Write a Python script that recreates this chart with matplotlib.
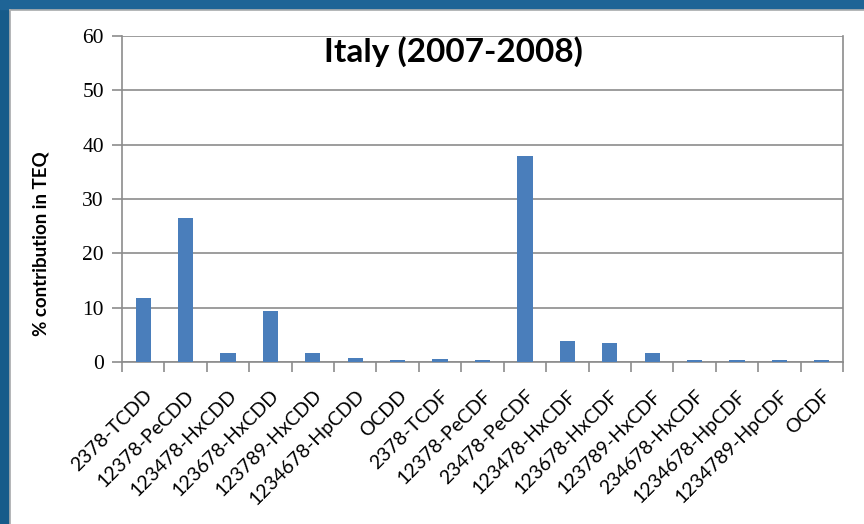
import numpy as np
import matplotlib
matplotlib.use("Agg")
import matplotlib.pyplot as plt
from matplotlib.patches import Rectangle

congeners = [
    "2378-TCDD", "12378-PeCDD", "123478-HxCDD", "123678-HxCDD",
    "123789-HxCDD", "1234678-HpCDD", "OCDD", "2378-TCDF",
    "12378-PeCDF", "23478-PeCDF", "123478-HxCDF", "123678-HxCDF",
    "123789-HxCDF", "234678-HxCDF", "1234678-HpCDF", "1234789-HpCDF",
    "OCDF",
]
teq_pct = [11.7, 26.5, 1.6, 9.3, 1.6, 0.8, 0.3, 0.5, 0.3, 37.9,
           3.8, 3.5, 1.7, 0.3, 0.3, 0.3, 0.3]
yticks = [0, 10, 20, 30, 40, 50, 60]

grid_col = "#8c8c8c"
bar_col = "#4a7ebb"

fig = plt.figure(figsize=(8.64, 5.24), dpi=100)
# dark blue slide frame (left and top only, screenshot is cropped)
fig.patches.append(Rectangle((0, 0), 9 / 864, 1, transform=fig.transFigure,
                             color="#175b8a", zorder=0))
fig.patches.append(Rectangle((0, 1 - 9 / 524), 1, 9 / 524, transform=fig.transFigure,
                             color="#1e6496", zorder=0))
fig.lines.append(plt.Line2D([10 / 864, 10 / 864], [0, 1 - 10 / 524],
                            transform=fig.transFigure, color="#b0b0b0", lw=1.2))
fig.lines.append(plt.Line2D([10 / 864, 1], [1 - 10 / 524, 1 - 10 / 524],
                            transform=fig.transFigure, color="#b0b0b0", lw=1.2))

ax = fig.add_axes([122 / 864, 1 - 362 / 524, (843 - 122) / 864, (362 - 36) / 524])
x = np.arange(len(congeners))
ax.bar(x, teq_pct, width=0.36, color=bar_col, zorder=3)

ax.set_xlim(-0.5, len(congeners) - 0.5)
ax.set_ylim(0, 60)
ax.set_yticks(yticks)
ax.set_yticklabels([str(v) for v in yticks], family="Liberation Serif", fontsize=15.5)
ax.yaxis.grid(True, color=grid_col, lw=1.2, zorder=0)
ax.tick_params(axis="y", length=7, width=1.2, color=grid_col, pad=6)

# category labels at centres, tick marks at boundaries (Excel style)
ax.set_xticks(x)
ax.set_xticklabels(congeners, rotation=45, ha="right", rotation_mode="anchor",
                   family="Lato", fontsize=14)
ax.tick_params(axis="x", length=0, pad=18)
ax.set_xticks(np.arange(len(congeners) + 1) - 0.5, minor=True)
ax.tick_params(axis="x", which="minor", length=7, width=1.2, color=grid_col)

for s in ["left", "bottom", "right"]:
    ax.spines[s].set_color(grid_col)
    ax.spines[s].set_linewidth(1.2)
ax.spines["top"].set_visible(False)

ax.set_ylabel("% contribution in TEQ", family="Lato", fontweight="bold",
              fontsize=13.5)
ax.yaxis.set_label_coords(-0.1, 0.362)
ax.text(0.459, 0.951, "Italy (2007-2008)", transform=ax.transAxes, ha="center",
        va="center", family="Lato", fontweight="bold", fontsize=24)

fig.savefig("out.png", dpi=100)
